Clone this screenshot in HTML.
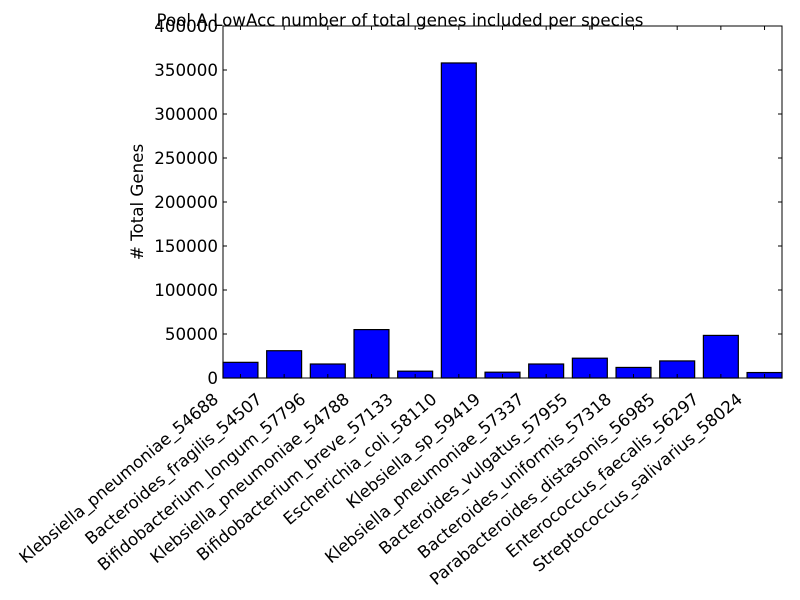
<!DOCTYPE html>
<html><head><meta charset="utf-8">
<style>
html,body{margin:0;padding:0;background:#fff;}
svg{display:block;font-family:"DejaVu Sans","Liberation Sans",sans-serif;}
</style></head>
<body>
<svg id="chart" width="800" height="600">
  <rect x="0" y="0" width="800" height="600" fill="#fff"/>
  <text x="400" y="26" text-anchor="middle" font-size="16.7">Pool A LowAcc number of total genes included per species</text>
  <text transform="translate(143,202) rotate(-90)" text-anchor="middle" font-size="16.7"># Total Genes</text>
  <g id="bars"></g>
  <g id="axes"></g>
</svg>
<script>
const categories = ["Klebsiella_pneumoniae_54688","Bacteroides_fragilis_54507","Bifidobacterium_longum_57796","Klebsiella_pneumoniae_54788","Bifidobacterium_breve_57133","Escherichia_coli_58110","Klebsiella_sp_59419","Klebsiella_pneumoniae_57337","Bacteroides_vulgatus_57955","Bacteroides_uniformis_57318","Parabacteroides_distasonis_56985","Enterococcus_faecalis_56297","Streptococcus_salivarius_58024"];
const values = [17800,31000,15900,55000,7750,358000,6600,15900,22500,12000,19400,48400,6200];
const yTicks = [0,50000,100000,150000,200000,250000,300000,350000,400000];

const L=223,R=782,T=26,B=378, yMax=400000, xMax=12.8;
const NS="http://www.w3.org/2000/svg";
function xScale(i){return L+(R-L)*i/xMax;}
function yScale(v){return B-(B-T)*v/yMax;}
const bars=document.getElementById('bars'), axes=document.getElementById('axes');
function mk(tag,attrs,parent){const e=document.createElementNS(NS,tag);for(const k in attrs)e.setAttribute(k,attrs[k]);parent.appendChild(e);return e;}

values.forEach((v,i)=>{
  const x0=xScale(i), x1=xScale(i+0.8);
  const r=mk('rect',{x:x0,y:yScale(v),width:x1-x0,height:B-yScale(v),fill:'#0000ff',stroke:'#000','stroke-width':1.2},bars);
  
  
  const cx=xScale(i+0.4);
  mk('line',{x1:cx,y1:B,x2:cx,y2:B-4,stroke:'#000'},axes);
  mk('line',{x1:cx,y1:T,x2:cx,y2:T+4,stroke:'#000'},axes);
  const ax=cx-21, ay=B+23;
  const t=mk('text',{x:ax,y:ay,'text-anchor':'end','font-size':16.7,transform:'rotate(-40 '+ax+' '+ay+')'},axes);
  t.textContent=categories[i];
  
  
});
yTicks.forEach(v=>{
  const y=yScale(v);
  mk('line',{x1:L,y1:y,x2:L+4,y2:y,stroke:'#000'},axes);
  mk('line',{x1:R,y1:y,x2:R-4,y2:y,stroke:'#000'},axes);
  const t=mk('text',{x:L-5,y:y+6,'text-anchor':'end','font-size':16.7},axes);
  t.textContent=v;
  
  
});
const f=mk('rect',{x:L,y:T,width:R-L,height:B-T,fill:'none',stroke:'#000','stroke-width':1},axes);


</script>
</body></html>
